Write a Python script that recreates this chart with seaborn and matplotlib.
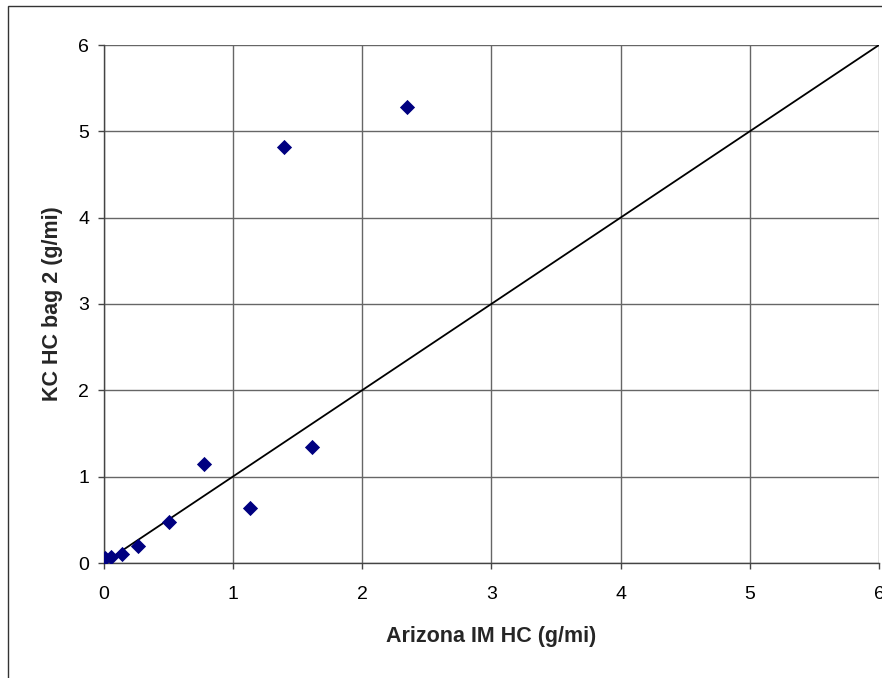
import matplotlib
matplotlib.use("Agg")
import matplotlib.pyplot as plt
import seaborn as sns
import pandas as pd
from matplotlib.patches import Rectangle

# values
arizona_hc = [0.01, 0.06, 0.145, 0.27, 0.51, 0.775, 1.13, 1.61, 1.40, 2.35]
kc_hc_bag2 = [0.06, 0.07, 0.10, 0.20, 0.48, 1.15, 0.64, 1.34, 4.82, 5.28]
ticks = [0, 1, 2, 3, 4, 5, 6]

sns.set_theme(style="white")
plt.rcParams['font.family'] = ['Liberation Sans', 'DejaVu Sans']

df = pd.DataFrame({"x": arizona_hc, "y": kc_hc_bag2})

fig = plt.figure(figsize=(8.82, 6.78), dpi=100)
ax = fig.add_axes([103.5 / 882, 115 / 678, (879 - 103.5) / 882, (563 - 45) / 678])

# outer frame of the chart area
fig.patches.append(Rectangle((8 / 882, -0.05), 1.2, 0.05 + (678 - 6) / 678,
                             transform=fig.transFigure, fill=False,
                             edgecolor="#333333", linewidth=1.0, zorder=0))

ax.plot([0, 6], [0, 6], color="black", linewidth=1.3, zorder=2)
sns.scatterplot(data=df, x="x", y="y", marker="D", s=60, color="#000080",
                edgecolor="#000080", linewidth=0, ax=ax, zorder=3)

ax.set_xlim(0, 6)
ax.set_ylim(0, 6)
ax.set_xticks(ticks)
ax.set_yticks(ticks)
ax.grid(True, color="#666666", linewidth=1.0)
ax.set_axisbelow(True)
for side in ["top", "right"]:
    ax.spines[side].set_visible(False)
for side in ["left", "bottom"]:
    ax.spines[side].set_color("#444444")
    ax.spines[side].set_linewidth(1.0)
ax.tick_params(axis="both", length=4.3, width=1.0, color="#444444",
               labelsize=14, labelcolor="black", direction="out",
               left=True, bottom=True)
ax.tick_params(axis="x", pad=12)
ax.tick_params(axis="y", pad=6)

ax.set_xlabel("Arizona IM HC (g/mi)", fontsize=15.5, fontweight="bold", labelpad=17)
ax.set_ylabel("KC HC bag 2 (g/mi)", fontsize=15.5, fontweight="bold", labelpad=11)

fig.savefig("out.png", dpi=100)
